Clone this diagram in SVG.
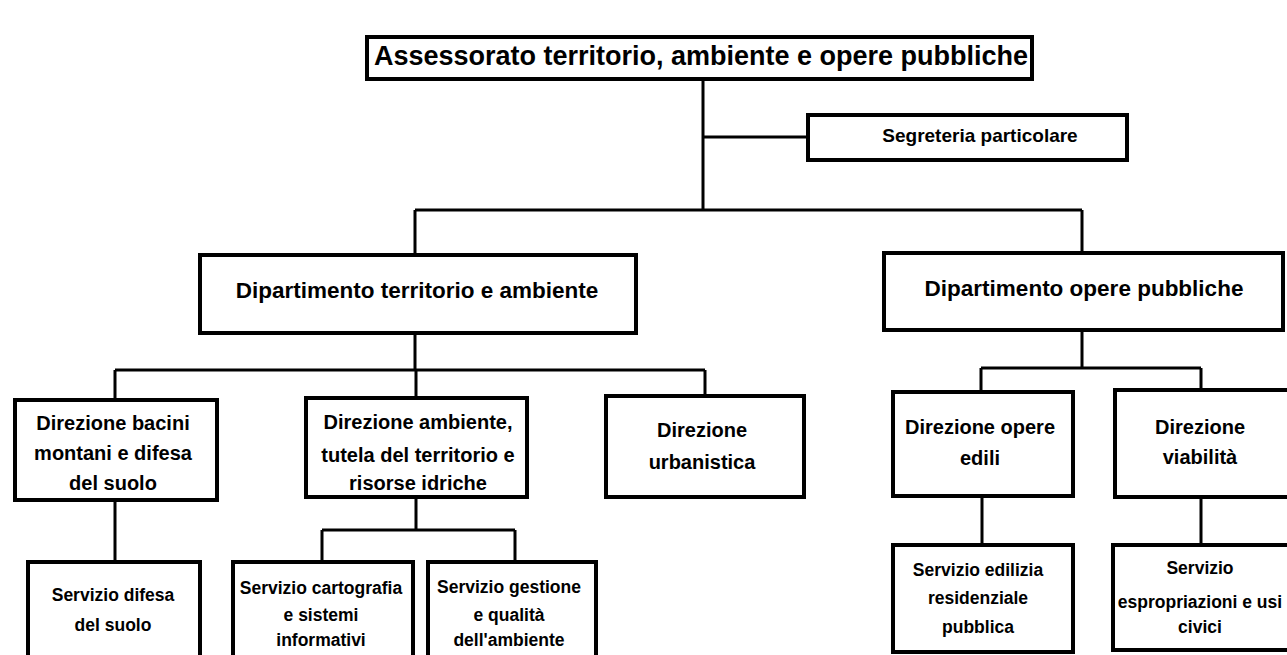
<svg xmlns="http://www.w3.org/2000/svg" width="1287" height="655" viewBox="0 0 1287 655">
<style>
.box{fill:#fff;stroke:#000;stroke-width:4}
.ln{fill:none;stroke:#000;stroke-width:3}
text{font-family:"Liberation Sans",Arial,sans-serif;font-weight:bold;fill:#000;text-anchor:middle}
.t1{font-size:27px}
.t2{font-size:22.5px}
.t3{font-size:20px}
.t4{font-size:17.5px}
.ts{font-size:19px}
</style>
<rect width="1287" height="655" fill="#fff"/>
<g id="connectors">
<path class="ln" d="M703 78V210M703 137H808M415 210H1082M415 210V255M1082 210V253"/>
<path class="ln" d="M415 333V370M115 370H705M115 370V400M416 370V398M705 370V396"/>
<path class="ln" d="M1082 330V368M981 368H1201M981 368V392M1201 368V390"/>
<path class="ln" d="M115 500V562M416 497V530M322 530H515M322 530V562M515 530V562M982 496V545M1201 497V545"/>
</g>
<g id="n-assessorato"><rect class="box" x="367" y="37" width="665" height="42"/><text class="t1" x="701" y="65">Assessorato territorio, ambiente e opere pubbliche</text></g>
<g id="n-segreteria"><rect class="box" x="808" y="115" width="319" height="45"/><text class="ts" x="980" y="142">Segreteria particolare</text></g>
<g id="n-dip-territorio"><rect class="box" x="200" y="255" width="436" height="78"/><text class="t2" x="417" y="298">Dipartimento territorio e ambiente</text></g>
<g id="n-dip-opere"><rect class="box" x="884" y="253" width="399" height="77"/><text class="t2" x="1084" y="296">Dipartimento opere pubbliche</text></g>
<g id="n-dir-bacini"><rect class="box" x="15" y="400" width="202" height="100"/><text class="t3" x="113" y="430">Direzione bacini</text><text class="t3" x="113" y="460">montani e difesa</text><text class="t3" x="113" y="490">del suolo</text></g>
<g id="n-dir-ambiente"><rect class="box" x="306" y="398" width="221" height="99"/><text class="t3" x="418" y="429">Direzione ambiente,</text><text class="t3" x="418" y="462">tutela del territorio e</text><text class="t3" x="418" y="490">risorse idriche</text></g>
<g id="n-dir-urbanistica"><rect class="box" x="606" y="396" width="198" height="101"/><text class="t3" x="702" y="437">Direzione</text><text class="t3" x="702" y="469">urbanistica</text></g>
<g id="n-dir-edili"><rect class="box" x="893" y="392" width="180" height="104"/><text class="t3" x="980" y="434">Direzione opere</text><text class="t3" x="980" y="465">edili</text></g>
<g id="n-dir-viabilita"><rect class="box" x="1115" y="390" width="174" height="107"/><text class="t3" x="1200" y="434">Direzione</text><text class="t3" x="1200" y="464">viabilità</text></g>
<g id="n-serv-difesa"><rect class="box" x="28" y="562" width="172" height="97"/><text class="t4" x="113" y="601">Servizio difesa</text><text class="t4" x="113" y="631">del suolo</text></g>
<g id="n-serv-cartografia"><rect class="box" x="233" y="562" width="180" height="97"/><text class="t4" x="321" y="594">Servizio cartografia</text><text class="t4" x="321" y="621">e sistemi</text><text class="t4" x="321" y="646">informativi</text></g>
<g id="n-serv-gestione"><rect class="box" x="428" y="562" width="168" height="97"/><text class="t4" x="509" y="593">Servizio gestione</text><text class="t4" x="509" y="621">e qualità</text><text class="t4" x="509" y="646">dell'ambiente</text></g>
<g id="n-serv-edilizia"><rect class="box" x="893" y="545" width="180" height="107"/><text class="t4" x="978" y="576">Servizio edilizia</text><text class="t4" x="978" y="604">residenziale</text><text class="t4" x="978" y="633">pubblica</text></g>
<g id="n-serv-espropriazioni"><rect class="box" x="1113" y="545" width="176" height="105"/><text class="t4" x="1200" y="574">Servizio</text><text class="t4" x="1200" y="608">espropriazioni e usi</text><text class="t4" x="1200" y="633">civici</text></g>
</svg>
